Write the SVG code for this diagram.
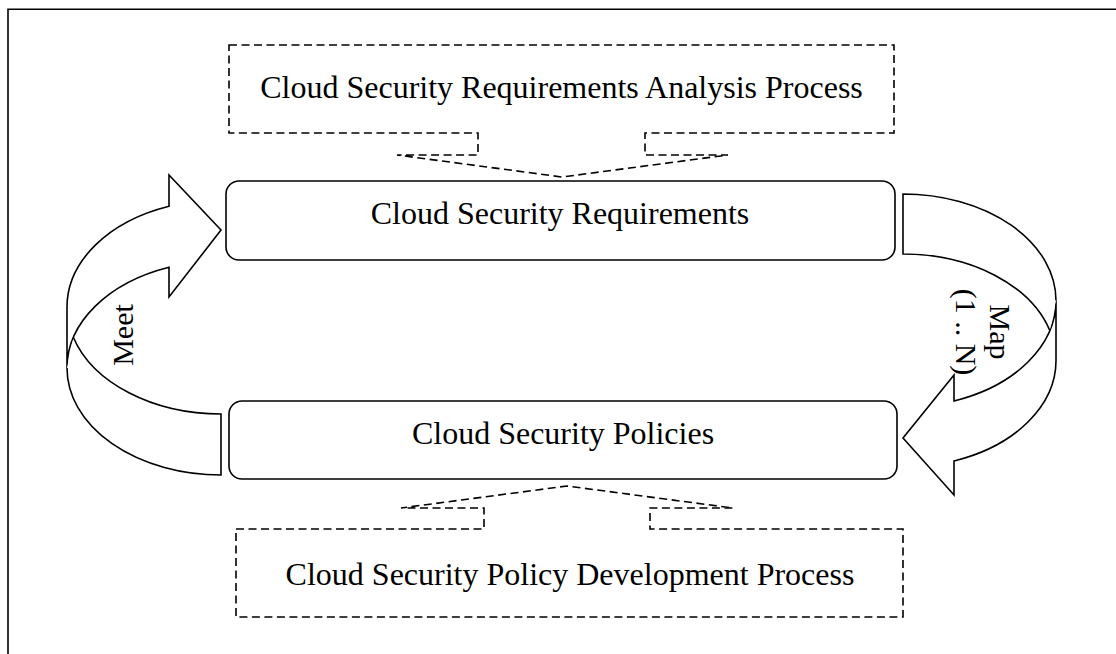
<svg xmlns="http://www.w3.org/2000/svg" width="1116" height="654" viewBox="0 0 1116 654">
<style>
  .frame{fill:none;stroke:#000;stroke-width:1.6}
  .box{fill:#fff;stroke:#000;stroke-width:1.6}
  .dash{fill:#fff;stroke:#000;stroke-width:1.6;stroke-dasharray:8 4.5}
  .arrow{fill:#fff;stroke:#000;stroke-width:1.6;stroke-linejoin:miter}
  .t{font-family:"Liberation Serif","Times New Roman",serif;font-size:32px;fill:#000;text-anchor:middle}
  .lbl{font-family:"Liberation Serif","Times New Roman",serif;font-size:30px;fill:#000;text-anchor:middle}
</style>
<rect width="1116" height="654" fill="#fff"/>
<g id="frame">
  <path class="frame" d="M8,654 V9.3 H1116"/>
</g>
<g id="analysis-process">
  <path class="dash" d="M229,45 H894 V133 H645 V155 H728 L562,177 L397,155 H478 V133 H229 Z"/>
  <text class="t" x="561.5" y="98">Cloud Security Requirements Analysis Process</text>
</g>
<g id="requirements">
  <rect class="box" x="226" y="181" width="669" height="79" rx="13"/>
  <text class="t" x="560" y="224">Cloud Security Requirements</text>
</g>
<g id="policies">
  <rect class="box" x="229" y="401" width="668" height="78" rx="13"/>
  <text class="t" x="563" y="444">Cloud Security Policies</text>
</g>
<g id="development-process">
  <path class="dash" d="M236,529 H484 V508 H401 L567,486 L733,508 H650 V529 H903 V617 H236 Z"/>
  <text class="t" x="570" y="585">Cloud Security Policy Development Process</text>
</g>
<g id="connectors">
  <g id="meet-arrow">
    <path class="arrow" d="M67,368 A154,107 0 0 1 169,267.3 L169,297 L221,230 L169,175 L169,206.3 A154,107 0 0 0 67,307 Z"/>
    <path class="arrow" d="M67,368 A154,107 0 0 0 221,475 L221,414 A154,107 0 0 1 73.4,337.5"/>
    <text class="lbl" transform="translate(133,335) rotate(-90)">Meet</text>
  </g>
  <g id="map-arrow">
    <path class="arrow" d="M1056,300.5 A153,106.5 0 0 1 954,401 L954,375 L903,438 L954,495 L954,461 A153,106.5 0 0 0 1056,360.5 Z"/>
    <path class="arrow" d="M1056,300.5 A153,106.5 0 0 0 903,194 L903,254 A153,106.5 0 0 1 1049.8,330.5"/>
    <text class="lbl" transform="translate(990,332) rotate(90)">Map</text>
    <text class="lbl" transform="translate(956,332) rotate(90)">(1 .. N)</text>
  </g>
</g>
</svg>
